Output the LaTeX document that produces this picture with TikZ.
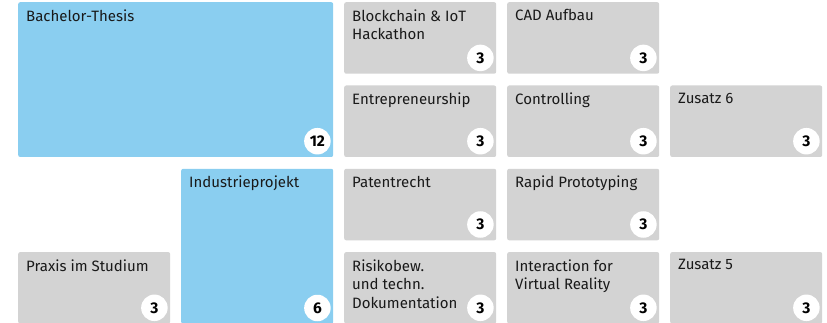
\documentclass[tikz,border=0pt]{standalone}
\usepackage{fontspec}
\setmainfont{Fira Sans}
\usetikzlibrary{positioning}
\definecolor{thesisblue}{RGB}{138, 206, 240}
\definecolor{modulgray}{RGB}{211, 211, 211}
\definecolor{textdark}{RGB}{25, 25, 25}

\begin{document}
\begin{tikzpicture}[x=1pt, y=-1pt,
        modul/.style={rectangle, rounded corners=2pt, anchor=north west, inner sep=0pt, minimum width=152pt, minimum height=71.5pt, fill=modulgray},
        pflicht/.style={modul, fill=thesisblue},
        titel/.style={anchor=north west, inner sep=0pt, align=left, font=\fontsize{15}{18.5}\selectfont, text=textdark},
        badge/.style={circle, fill=white, inner sep=0pt, minimum size=26.5pt, font=\fontsize{15.5}{15.5}\selectfont\bfseries}
    ]
        \useasboundingbox (0, 0) rectangle (827, 323);

        \node[pflicht, minimum width=315pt, minimum height=154.8pt] (thesis) at (18, 2) {};
        \node[modul] (blockchain) at (344, 2) {};
        \node[modul] (cad) at (507, 2) {};
        \node[modul] (entrepreneur) at (344, 85.3) {};
        \node[modul] (controlling) at (507, 85.3) {};
        \node[modul] (zusatzsechs) at (670, 85.3) {};
        \node[pflicht, minimum height=155pt] (industrie) at (181, 168.6) {};
        \node[modul] (patent) at (344, 168.6) {};
        \node[modul] (rapid) at (507, 168.6) {};
        \node[modul] (praxis) at (18, 251.9) {};
        \node[modul] (risiko) at (344, 251.9) {};
        \node[modul] (virtual) at (507, 251.9) {};
        \node[modul] (zusatzfuenf) at (670, 251.9) {};

        \node[titel] at ([shift={(8, 7.5)}]thesis.north west) {Bachelor-Thesis};
        \node[titel] at ([shift={(8, 7.5)}]blockchain.north west) {Blockchain \& IoT\\Hackathon};
        \node[titel] at ([shift={(8, 7.5)}]cad.north west) {CAD Aufbau};
        \node[titel] at ([shift={(8, 7.5)}]entrepreneur.north west) {Entrepreneurship};
        \node[titel] at ([shift={(8, 7.5)}]controlling.north west) {Controlling};
        \node[titel] at ([shift={(8, 7.5)}]zusatzsechs.north west) {Zusatz 6};
        \node[titel] at ([shift={(8, 7.5)}]industrie.north west) {Industrieprojekt};
        \node[titel] at ([shift={(8, 7.5)}]patent.north west) {Patentrecht};
        \node[titel] at ([shift={(8, 7.5)}]rapid.north west) {Rapid Prototyping};
        \node[titel] at ([shift={(8, 7.5)}]praxis.north west) {Praxis im Studium};
        \node[titel] at ([shift={(8, 7.5)}]risiko.north west) {Risikobew.\\und techn.\\Dokumentation};
        \node[titel] at ([shift={(8, 7.5)}]virtual.north west) {Interaction for\\Virtual Reality};
        \node[titel] at ([shift={(8, 7.5)}]zusatzfuenf.north west) {Zusatz 5};

        % ECTS
        \node[badge] at ([shift={(-16, -16)}]thesis.south east) {12};
        \node[badge] at ([shift={(-16, -16)}]blockchain.south east) {3};
        \node[badge] at ([shift={(-16, -16)}]cad.south east) {3};
        \node[badge] at ([shift={(-16, -16)}]entrepreneur.south east) {3};
        \node[badge] at ([shift={(-16, -16)}]controlling.south east) {3};
        \node[badge] at ([shift={(-16, -16)}]zusatzsechs.south east) {3};
        \node[badge] at ([shift={(-16, -16)}]industrie.south east) {6};
        \node[badge] at ([shift={(-16, -16)}]patent.south east) {3};
        \node[badge] at ([shift={(-16, -16)}]rapid.south east) {3};
        \node[badge] at ([shift={(-16, -16)}]praxis.south east) {3};
        \node[badge] at ([shift={(-16, -16)}]risiko.south east) {3};
        \node[badge] at ([shift={(-16, -16)}]virtual.south east) {3};
        \node[badge] at ([shift={(-16, -16)}]zusatzfuenf.south east) {3};
    \end{tikzpicture}
\end{document}
